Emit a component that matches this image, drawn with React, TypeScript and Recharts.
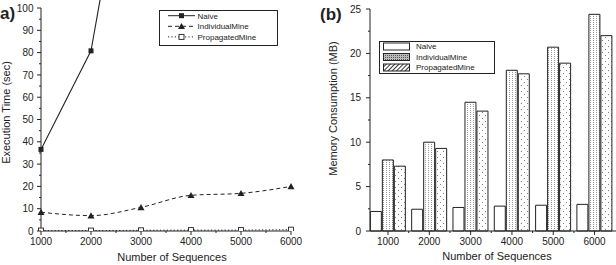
import { Bar, BarChart, Legend, Line, LineChart, ReferenceLine, XAxis, YAxis } from 'recharts';

const INK = '#222';
const FONT = '"Liberation Sans", Arial, sans-serif';

// number of sequences (shared x values)
const sequences = [1000, 2000, 3000, 4000, 5000, 6000];

// execution time in seconds
const naiveTime = [36.6, 80.8, 207, null, null, null];
const individualTime = [8.4, 6.9, 10.6, 16.0, 16.9, 20.0];
const propagatedTime = [0.2, 0.2, 0.3, 0.4, 0.4, 0.6];

// memory consumption in MB
const naiveMemory = [2.2, 2.45, 2.65, 2.8, 2.9, 3.0];
const individualMemory = [8.0, 10.0, 14.5, 18.1, 20.7, 24.4];
const propagatedMemory = [7.3, 9.3, 13.5, 17.7, 18.9, 22.0];

// ticks (minor ones are drawn without a label)
const seqTicks = [1000, 1500, 2000, 2500, 3000, 3500, 4000, 4500, 5000, 5500, 6000];
const timeTicks = [0, 5, 10, 15, 20, 25, 30, 35, 40, 45, 50, 55, 60, 65, 70, 75, 80, 85, 90, 95, 100];
const memoryTicks = [0, 2.5, 5, 7.5, 10, 12.5, 15, 17.5, 20, 22.5, 25];

const seriesNames = ['Naive', 'IndividualMine', 'PropagatedMine'];

const timeRows = sequences.map((n, i) => ({
  n,
  naive: naiveTime[i],
  individual: individualTime[i],
  propagated: propagatedTime[i],
}));

const memoryRows = sequences.map((n, i) => ({
  n,
  naive: naiveMemory[i],
  individual: individualMemory[i],
  propagated: propagatedMemory[i],
}));

const makeXTick = (isMajor: (v: number) => boolean) => (p: any) => {
  const v = p.payload.value;
  const major = isMajor(v);
  return (
    <g>
      <line x1={p.x} x2={p.x} y1={p.y} y2={p.y + (major ? 4 : 2)} stroke={INK} strokeWidth={1} />
      {major && (
        <text x={p.x} y={p.y + 13.5} textAnchor="middle" fontSize={10} fill={INK} fontFamily={FONT}>
          {v}
        </text>
      )}
    </g>
  );
};

const makeYTick = (isMajor: (v: number) => boolean, gap: number) => (p: any) => {
  const v = p.payload.value;
  const major = isMajor(v);
  return (
    <g>
      <line x1={p.x - (major ? 4 : 2)} x2={p.x} y1={p.y} y2={p.y} stroke={INK} strokeWidth={1} />
      {major && (
        <text x={p.x - gap} y={p.y + 3.6} textAnchor="end" fontSize={10} fill={INK} fontFamily={FONT}>
          {v}
        </text>
      )}
    </g>
  );
};

const title = (text: string, x: number, y: number, vertical = false) => () => (
  <text
    x={x}
    y={y}
    textAnchor="middle"
    dominantBaseline="central"
    transform={vertical ? `rotate(-90 ${x} ${y})` : undefined}
    fontSize={11}
    fill={INK}
    fontFamily={FONT}
  >
    {text}
  </text>
);

function Square({ cx, cy, hollow }: { cx?: number; cy?: number; hollow?: boolean }) {
  if (cx == null || cy == null) return null;
  return (
    <rect
      x={cx - 2.5}
      y={cy - 2.5}
      width={5}
      height={5}
      fill={hollow ? '#fff' : INK}
      stroke={INK}
      strokeWidth={hollow ? 0.9 : 0}
    />
  );
}

function Triangle({ cx, cy }: { cx?: number; cy?: number }) {
  if (cx == null || cy == null) return null;
  return <path d={`M${cx - 3.5},${cy + 2.8}L${cx + 3.5},${cy + 2.8}L${cx},${cy - 3.4}Z`} fill={INK} />;
}

const lineStyles = [
  { dash: undefined, marker: (x: number, y: number) => <Square cx={x} cy={y} /> },
  { dash: '4 3', marker: (x: number, y: number) => <Triangle cx={x} cy={y} /> },
  { dash: '1.2 2.2', marker: (x: number, y: number) => <Square cx={x} cy={y} hollow /> },
];

function TimeKey() {
  return (
    <svg width={120} height={36} style={{ display: 'block' }}>
      <rect x={0.5} y={0.5} width={118} height={35} fill="#fff" stroke={INK} strokeWidth={1} />
      {seriesNames.map((name, i) => {
        const y = 5.7 + i * 10.6;
        return (
          <g key={name}>
            <line x1={9} x2={36} y1={y} y2={y} stroke={INK} strokeWidth={1} strokeDasharray={lineStyles[i].dash} />
            {lineStyles[i].marker(22.5, y)}
            <text x={38.5} y={y + 2.9} fontSize={8} fill={INK} fontFamily={FONT}>
              {name}
            </text>
          </g>
        );
      })}
    </svg>
  );
}

const barFills = ['#fff', 'url(#keyCross)', 'url(#keyDiag)'];

function MemoryKey() {
  return (
    <svg width={117} height={33} style={{ display: 'block' }}>
      <defs>
        <pattern id="keyCross" width={2} height={2} patternUnits="userSpaceOnUse">
          <rect width={2} height={2} fill="#bbb" />
          <rect width={1} height={1} fill="#555" />
        </pattern>
        <pattern id="keyDiag" width={3} height={3} patternUnits="userSpaceOnUse" patternTransform="rotate(-45)">
          <rect width={3} height={3} fill="#fff" />
          <rect width={3} height={1} fill="#333" />
        </pattern>
      </defs>
      <rect x={0.5} y={0.5} width={115} height={32} fill="#fff" stroke={INK} strokeWidth={1} />
      {seriesNames.map((name, i) => {
        const y = 5.5 + i * 10.5;
        return (
          <g key={name}>
            <rect x={4.5} y={y - 3.5} width={26} height={7} fill={barFills[i]} stroke={INK} strokeWidth={1} />
            <text x={37} y={y + 2.9} fontSize={8} fill={INK} fontFamily={FONT}>
              {name}
            </text>
          </g>
        );
      })}
    </svg>
  );
}

function TimePanel() {
  return (
    <LineChart width={310} height={265} data={timeRows} margin={{ top: 0, right: 19, bottom: 0, left: 0 }}>
      <XAxis
        dataKey="n"
        type="number"
        domain={[1000, 6000]}
        ticks={seqTicks}
        interval={0}
        height={34}
        tickSize={0}
        tickMargin={0}
        tickLine={false}
        axisLine={{ stroke: INK }}
        tick={makeXTick((v) => v % 1000 === 0)}
        label={{ content: title('Number of Sequences', 172, 257) }}
      />
      <YAxis
        type="number"
        domain={[0, 103.6]}
        allowDataOverflow
        ticks={timeTicks}
        interval={0}
        width={41}
        tickSize={0}
        tickMargin={0}
        tickLine={false}
        axisLine={false}
        tick={makeYTick((v) => v % 10 === 0, 7.5)}
        label={{ content: title('Execution Time (sec)', 6, 112.5, true) }}
      />
      <ReferenceLine segment={[{ x: 1000, y: 0 }, { x: 1000, y: 100 }]} stroke={INK} strokeWidth={1} />
      <Legend
        layout="horizontal"
        verticalAlign="middle"
        align="center"
        content={() => <TimeKey />}
        wrapperStyle={{ left: 159, top: 10, width: 120, height: 36 }}
      />
      <Line
        dataKey="propagated"
        name="PropagatedMine"
        type="linear"
        stroke={INK}
        strokeWidth={1}
        strokeDasharray="1.2 2.2"
        dot={(p: any) => <Square key={p.index} cx={p.cx} cy={p.cy} hollow />}
        isAnimationActive={false}
      />
      <Line
        dataKey="individual"
        name="IndividualMine"
        type="monotone"
        stroke={INK}
        strokeWidth={1}
        strokeDasharray="4 3"
        dot={(p: any) => <Triangle key={p.index} cx={p.cx} cy={p.cy} />}
        isAnimationActive={false}
      />
      <Line
        dataKey="naive"
        name="Naive"
        type="linear"
        stroke={INK}
        strokeWidth={1.1}
        dot={(p: any) => <Square key={p.index} cx={p.cx} cy={p.cy} />}
        isAnimationActive={false}
      />
    </LineChart>
  );
}

function MemoryPanel() {
  return (
    <BarChart
      width={306}
      height={265}
      data={memoryRows}
      margin={{ top: 9, right: 0, bottom: 0, left: 0 }}
      barSize={11}
      barGap={1}
    >
      <defs>
        <pattern id="indivDots" width={3} height={2} patternUnits="userSpaceOnUse">
          <rect width={3} height={2} fill="#fff" />
          <rect x={1} y={0} width={1} height={1} fill="#9a9a9a" />
        </pattern>
        <pattern id="propDots" width={6} height={6} patternUnits="userSpaceOnUse">
          <rect width={6} height={6} fill="#fff" />
          <rect x={1} y={1} width={1} height={1} fill="#808080" />
          <rect x={4} y={4} width={1} height={1} fill="#808080" />
        </pattern>
      </defs>
      <XAxis
        dataKey="n"
        type="number"
        domain={[564, 6519]}
        ticks={seqTicks}
        interval={0}
        height={34}
        tickSize={0}
        tickMargin={0}
        tickLine={false}
        axisLine={{ stroke: INK }}
        tick={makeXTick((v) => v % 1000 === 0)}
        label={{ content: title('Number of Sequences', 187, 256) }}
      />
      <YAxis
        type="number"
        domain={[0, 25]}
        ticks={memoryTicks}
        interval={0}
        width={60}
        tickSize={0}
        tickMargin={0}
        tickLine={false}
        axisLine={{ stroke: INK }}
        tick={makeYTick((v) => v % 5 === 0, 9)}
        label={{ content: title('Memory Consumption (MB)', 23, 108.5, true) }}
      />
      <Legend
        layout="horizontal"
        verticalAlign="middle"
        align="center"
        content={() => <MemoryKey />}
        wrapperStyle={{ left: 69, top: 41, width: 117, height: 33 }}
      />
      <Bar dataKey="naive" name="Naive" fill="#fff" stroke={INK} strokeWidth={1} isAnimationActive={false} />
      <Bar
        dataKey="individual"
        name="IndividualMine"
        fill="url(#indivDots)"
        stroke={INK}
        strokeWidth={1}
        isAnimationActive={false}
      />
      <Bar
        dataKey="propagated"
        name="PropagatedMine"
        fill="url(#propDots)"
        stroke={INK}
        strokeWidth={1}
        isAnimationActive={false}
      />
    </BarChart>
  );
}

export default function App() {
  return (
    <div
      style={{
        position: 'absolute',
        left: 0,
        top: 0,
        width: 616,
        height: 265,
        background: '#fff',
        fontFamily: FONT,
        overflow: 'hidden',
      }}
    >
      <div style={{ position: 'absolute', left: 0, top: 0 }}>
        <TimePanel />
      </div>
      <div style={{ position: 'absolute', left: 310, top: 0 }}>
        <MemoryPanel />
      </div>
      <svg width={616} height={265} style={{ position: 'absolute', left: 0, top: 0, pointerEvents: 'none' }}>
        <text x={0} y={18.5} fontSize={17} fontWeight="bold" fill={INK} fontFamily={FONT}>
          a)
        </text>
        <text x={320} y={20} fontSize={17} fontWeight="bold" fill={INK} fontFamily={FONT}>
          (b)
        </text>
      </svg>
    </div>
  );
}
